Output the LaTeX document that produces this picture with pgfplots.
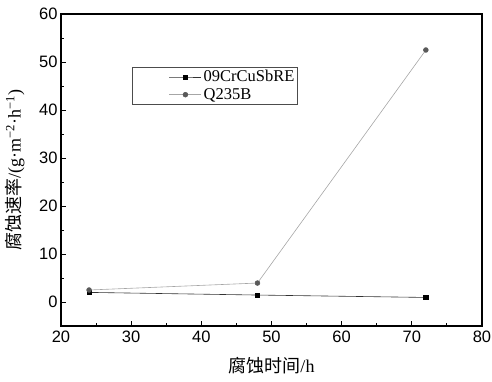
\documentclass[border=0pt]{standalone}
\usepackage{fontspec}
\setmainfont{Liberation Serif}
\newfontfamily\cjk{Noto Sans CJK SC}
\newfontfamily\ticksans{Liberation Sans}
\usepackage{pgfplots}
\pgfplotsset{compat=1.18}
\begin{document}
\begin{tikzpicture}
\begin{axis}[
  name=ax,
  scale only axis,
  width=421pt, height=312pt,
  xmin=20, xmax=80, ymin=-5, ymax=60,
  xtick={20,30,...,80}, ytick={0,10,...,60},
  minor tick num=1,
  tick align=inside,
  xtick pos=bottom, ytick pos=left,
  major tick length=5pt, minor tick length=3pt,
  axis line style={line width=1.3pt},
  every tick/.style={line width=1pt, black},
  /pgf/number format/assume math mode=true,
  ticklabel style={font=\ticksans\fontsize{16.5}{17}\selectfont},
  xticklabel style={yshift=-1pt},
  xlabel={{\cjk\fontsize{18}{19}\selectfont 腐蚀时间}/h},
  ylabel={{\cjk\fontsize{18}{19}\selectfont 腐蚀速率}/(g·m\textsuperscript{−2}·h\textsuperscript{−1})},
  label style={font=\fontsize{18}{19}\selectfont},
  xlabel style={at={(axis description cs:0.5,0)}, anchor=center, yshift=-40pt},
  ylabel style={at={(axis description cs:0,0.5)}, anchor=center, yshift=46pt},
  legend style={at={(axis cs:30.1,48.9)}, anchor=north west, draw=black!70, line width=0.5pt,
    font=\fontsize{16.5}{17}\selectfont, inner sep=1pt, row sep=1pt,
    nodes={inner sep=2pt},
    legend cell align=left},
  legend image code/.code={
    \path (-36pt,0pt);
    \draw[mark repeat=2,mark phase=2,#1] plot coordinates {(0pt,0pt) (16pt,0pt) (32pt,0pt)};
  },
]
\addplot[color=black!80, line width=0.6pt, mark=square*, mark size=2.2pt, mark options={fill=black, draw=black}]
  coordinates {(24,2.0) (48,1.45) (72,0.95)};
\addlegendentry{09CrCuSbRE}
\addplot[color=black!35, line width=0.6pt, mark=*, mark size=2.4pt, mark options={fill=black!65, draw=black!65}]
  coordinates {(24,2.5) (48,3.95) (72,52.5)};
\addlegendentry{Q235B}
\end{axis}
\pgfresetboundingbox
\path[use as bounding box] ([xshift=-61pt,yshift=-55pt]ax.south west) rectangle ++(492pt,381pt);
\end{tikzpicture}
\end{document}
